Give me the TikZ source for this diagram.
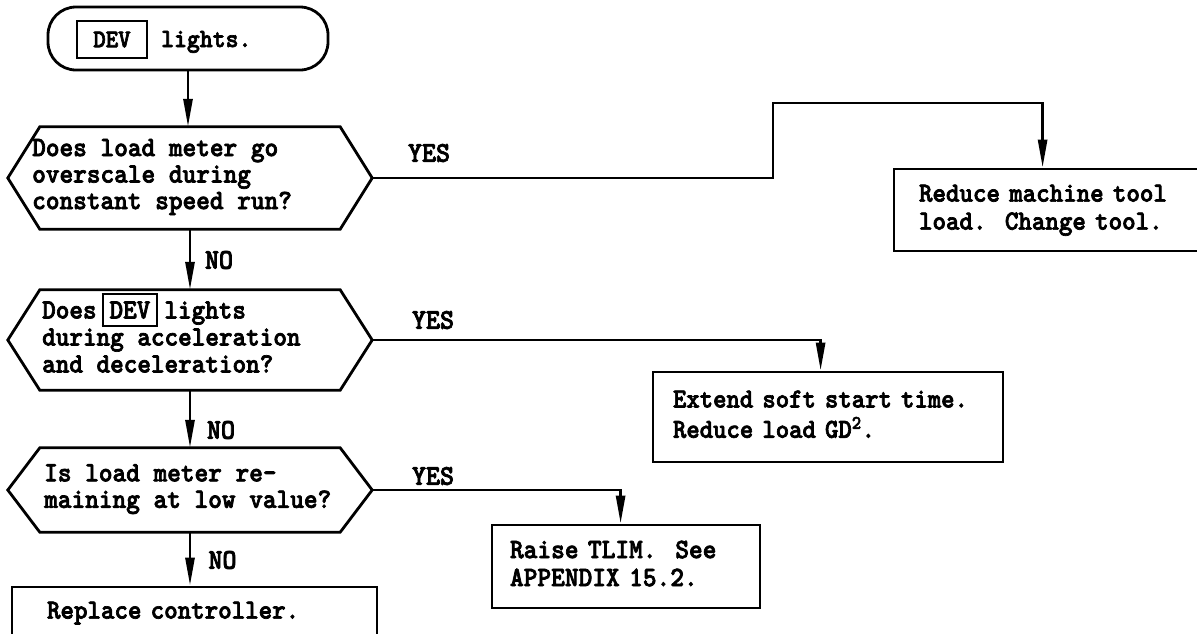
\documentclass[tikz,border=0pt]{standalone}
\usepackage{fontspec}
\usetikzlibrary{arrows.meta}
% heavy, slightly condensed typewriter face
\newfontfamily\twfont{lmmonolt10-bold.otf}[FakeBold=2.5, FakeStretch=0.93]
\newcommand{\tw}[2]{\twfont\fontsize{#1}{#2}\selectfont}
% framed key name set inline in running text
\newcommand{\devbox}[1]{\smash{\setlength{\fboxsep}{6pt}\setlength{\fboxrule}{2pt}\fbox{#1}}}
\begin{document}
\begin{tikzpicture}[x=1pt,y=-1pt,
  wire/.style={line width=2.8pt, line join=miter},
  flow/.style={wire, -{Triangle[length=28pt,width=9pt]}},
  actbox/.style={draw, line width=2.8pt, rectangle, inner ysep=0pt, align=left,
    font=\tw{27.65}{28}, execute at begin node=\strut, execute at end node=\strut},
  hexbody/.style={rectangle, minimum width=300pt, inner sep=0pt},
  qtext/.style={anchor=west, inner sep=0pt, align=left,
    execute at begin node=\strut, execute at end node=\strut},
  answer/.style={inner sep=0pt, font=\tw{28.7}{28}}]
\useasboundingbox (0,0) rectangle (1197,633);

% start terminal
\node[draw, line width=2.8pt, rounded corners=28pt, minimum width=280pt,
      minimum height=63pt, inner sep=0pt] (start) at (188,38.5) {};
\node[draw, line width=2.2pt, minimum width=70pt, minimum height=37pt,
      inner sep=0pt, font=\tw{25.5}{28}] (dev) at (112,39.5) {DEV};
\node[anchor=base west, inner sep=0pt, font=\tw{26.4}{28}] (lights) at (161,47) {lights.};

% decision bodies and their hexagonal outlines
\node[hexbody, minimum height=102pt] (q1) at (190,178) {};
\node[hexbody, minimum height=100pt] (q2) at (190,340) {};
\node[hexbody, minimum height=84pt]  (q3) at (190,490) {};
\foreach \q in {q1,q2,q3}
  \draw[wire] (\q.north west) -- (\q.north east) -- ([xshift=32pt]\q.east)
    -- (\q.south east) -- (\q.south west) -- ([xshift=-32pt]\q.west) -- cycle;

\node[qtext, font=\tw{28}{26.5}] (q1t) at (32,178)
  {Does load meter go\\overscale during\\constant speed run?};
\node[qtext, font=\tw{27.85}{27}] (q2t) at (42,341)
  {Does\hspace{5pt}\devbox{DEV}\hspace{6pt}lights\\during acceleration\\and deceleration?};
\node[qtext, font=\tw{28}{26.5}] (q3t) at (44,490)
  {Is load meter re-\\maining at low value?};

% action boxes
\node[actbox, minimum height=82pt, text width=259pt, inner xsep=25pt] (fix1)
  at (1048.5,210) {Reduce machine tool\\load.\ \ Change tool.};
\node[actbox, minimum height=90pt, text width=310pt, inner xsep=20pt,
      font=\tw{27.4}{28}] (fix2)
  at (828,417) {Extend soft start time.\\Reduce load GD\textsuperscript{2}.};
\node[actbox, minimum height=83pt, text width=232pt, inner xsep=18pt,
      font=\tw{28.1}{28}] (fix3)
  at (626,566.5) {Raise TLIM.\ \ See\\APPENDIX 15.2.};
\node[actbox, minimum height=52pt, text width=295pt, inner xsep=35pt] (fix4)
  at (194.5,613) {Replace controller.};

% main NO chain
\draw[flow] (start.south) -- (start.south |- q1.north);
\draw[flow] (q1.south) -- (q2.north);
\draw[flow] (q2.south) -- (q3.north);
\draw[flow] (q3.south) -- (q3.south |- fix4.north);

% YES branches
\coordinate (bend1) at (773,103);
\draw[flow] ([xshift=32pt]q1.east) -| (bend1) -| ([xshift=150pt]fix1.north west);
\draw[flow] ([xshift=32pt]q2.east) -| ([xshift=169pt]fix2.north west);
\draw[flow] ([xshift=32pt]q3.east) -| ([xshift=130pt]fix3.north west);

% branch labels
\node[answer] (no1) at (219,260) {NO};
\node[answer] (no2) at (221,430) {NO};
\node[answer] (no3) at (222.5,560) {NO};
\node[answer] (yes1) at (429,153) {YES};
\node[answer] (yes2) at (433,320) {YES};
\node[answer] (yes3) at (433,476) {YES};
\end{tikzpicture}
\end{document}
